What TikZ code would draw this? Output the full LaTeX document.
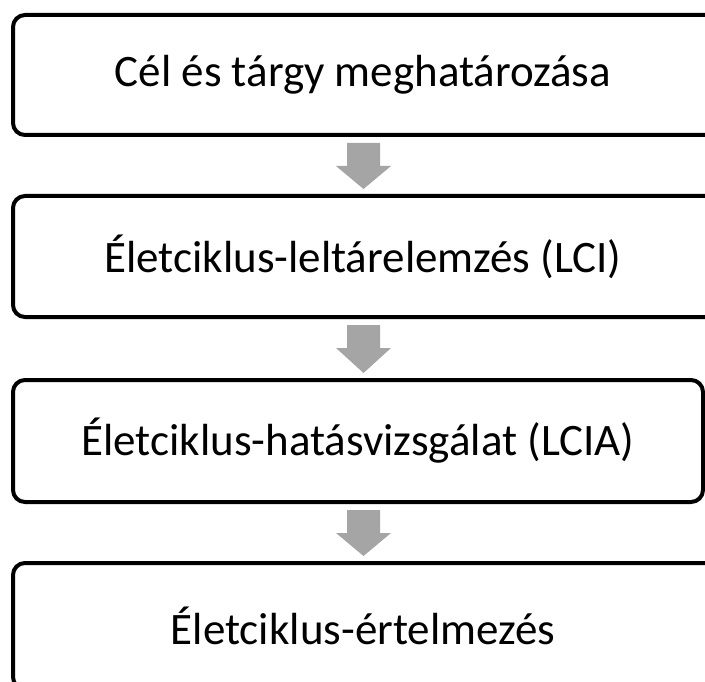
\documentclass[tikz,border=0pt]{standalone}
\usepackage{fontspec}
\setmainfont{Carlito}
\usetikzlibrary{calc}
\definecolor{arrowgray}{RGB}{165,165,165}
\tikzset{
  stagebox/.style={draw=black, line width=4pt, rounded corners=12pt, fill=white,
    inner sep=0pt, outer sep=0pt, font=\fontsize{45}{54}\selectfont, text=black},
  flowarrow/.style={fill=arrowgray, draw=none}
}
\newcommand\flowdown[2]{%
  \fill[flowarrow]
    ($(ax |- #1.south)+(-16.5,8)$) -- ($(ax |- #1.south)+(16.5,8)$) --
    ($(ax |- #1.south)+(16.5,31)$) -- ($(ax |- #1.south)+(27.5,31)$) --
    ($(ax |- #2.north)+(0,-7)$) --
    ($(ax |- #1.south)+(-27.5,31)$) -- ($(ax |- #1.south)+(-16.5,31)$) -- cycle;}
\begin{document}
\begin{tikzpicture}[x=1pt,y=-1pt]
\useasboundingbox (0,0) rectangle (705,682);
\clip (0,0) rectangle (705,682);
\fill[white] (0,0) rectangle (705,682);
\coordinate (ax) at (363.5,0);
\node[stagebox, minimum width=704pt, minimum height=120pt] (b1) at (365,75) {\hspace*{-4pt}Cél és tárgy meghatározása};
\node[stagebox, minimum width=704pt, minimum height=121pt] (b2) at (365,256.5) {\hspace*{-4pt}Életciklus-leltárelemzés (LCI)};
\node[stagebox, minimum width=690pt, minimum height=122pt] (b3) at (358,441) {Életciklus-hatásvizsgálat (LCIA)};
\node[stagebox, minimum width=704pt, minimum height=126pt] (b4) at (365,626) {\hspace*{-4pt}Életciklus-értelmezés};
\flowdown{b1}{b2}
\flowdown{b2}{b3}
\flowdown{b3}{b4}
\end{tikzpicture}
\end{document}
